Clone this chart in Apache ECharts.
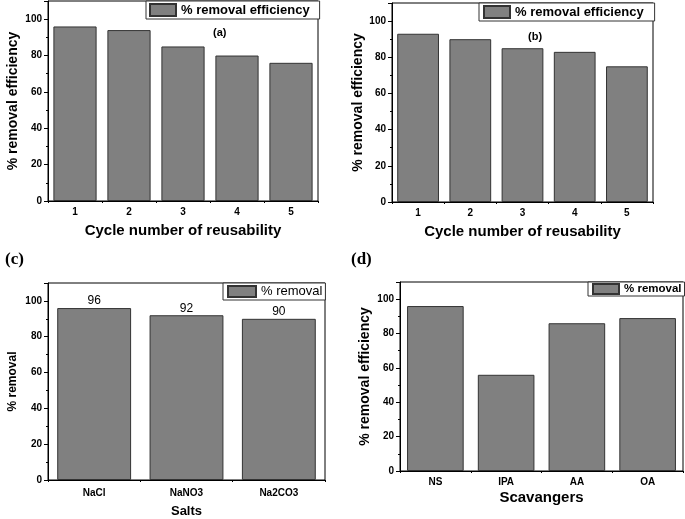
<!DOCTYPE html>
<html><head><meta charset="utf-8">
<script src="https://cdn.jsdelivr.net/npm/echarts@6/dist/echarts.min.js"></script>
<style>html,body{margin:0;padding:0;background:#fff}#c{width:685px;height:519px}</style>
</head><body><div id="c"></div>
<script>
const catA = ['1','2','3','4','5'];
const valA = [96, 94, 85, 80, 76];
const catB = ['1','2','3','4','5'];
const valB = [93, 90, 85, 83, 75];
const catC = ['NaCl','NaNO3','Na2CO3'];
const valC = [96, 92, 90];
const catD = ['NS','IPA','AA','OA'];
const valD = [96, 56, 86, 89];

const F = "'Liberation Sans', Arial, sans-serif";
const chart = echarts.init(document.getElementById('c'));
const grids = [
  {left:48, top:1, right:367, bottom:318},
  {left:392, top:3, right:32, bottom:317},
  {left:48, top:283, right:360, bottom:32},
  {left:400, top:282, right:2, bottom:48}
];
const cats = [catA, catB, catC, catD];
const vals = [valA, valB, valC, valD];
const xNames = ['Cycle number of reusability','Cycle number of reusability','Salts','Scavangers'];
const yNames = ['% removal efficiency','% removal efficiency','% removal','% removal efficiency'];
const xNameSize = [15,15,13,15], xNameGap=[22,22,25,19], xLabMargin=[6,6,8,6];
const yNameSize = [14,14,12,14], yNameGap=[28,26,29,28];
const sNames = ['% removal efficiency','% removal efficiency','% removal','% removal'];

const mainX = cats.map((c,i)=>({
  type:'category', gridIndex:i, data:c, position:'bottom',
  name:xNames[i], nameLocation:'middle', nameGap:xNameGap[i],
  nameTextStyle:{fontFamily:F, fontWeight:'bold', fontSize:xNameSize[i], color:'#000'},
  axisLine:{lineStyle:{color:'#000', width:1}},
  axisTick:{alignWithLabel:true, length:4, lineStyle:{color:'#000'}},
  axisLabel:{fontFamily:F, fontWeight:'bold', fontSize:10, color:'#000', margin:xLabMargin[i]}
}));
const minorX = cats.map((c,i)=>({
  type:'category', gridIndex:i, data:c, position:'bottom',
  axisLine:{show:false},
  axisTick:{show:true, length:2, lineStyle:{color:'#000'}},
  axisLabel:{show:false}, splitLine:{show:false}
}));

const option = {
  animation:false,
  backgroundColor:'#fff',
  grid: grids.map(g=>Object.assign({show:true, borderColor:'#000', borderWidth:1, backgroundColor:'transparent'}, g)),
  title: [
    {text:'(a)', left:208, top:22, textStyle:{fontFamily:F, fontWeight:'bold', fontSize:11, color:'#000'}},
    {text:'(b)', left:523, top:26, textStyle:{fontFamily:F, fontWeight:'bold', fontSize:11, color:'#000'}},
    {text:'(c)', left:0, top:246, textStyle:{fontFamily:"'Liberation Serif', 'Times New Roman', serif", fontWeight:'bold', fontSize:17, color:'#000'}},
    {text:'(d)', left:346, top:246, textStyle:{fontFamily:"'Liberation Serif', 'Times New Roman', serif", fontWeight:'bold', fontSize:17, color:'#000'}}
  ],
  legend: [
    {data:[sNames[0]], left:146, top:1, padding:[2,10,2,3], itemWidth:26, itemHeight:12, icon:'rect', borderColor:'#333', borderWidth:1, backgroundColor:'#fff', selectedMode:false, textStyle:{fontFamily:F, fontWeight:'bold', fontSize:13, color:'#000'}},
    {data:[sNames[1]], left:479, top:3, padding:[2,11,2,4], itemWidth:26, itemHeight:12, icon:'rect', borderColor:'#333', borderWidth:1, backgroundColor:'#fff', selectedMode:false, textStyle:{fontFamily:F, fontWeight:'bold', fontSize:13, color:'#000'}},
    {data:[sNames[2]], left:223, top:283, padding:[2,3,2,4], itemWidth:28, itemHeight:11, icon:'rect', borderColor:'#333', borderWidth:1, backgroundColor:'#fff', selectedMode:false, textStyle:{fontFamily:F, fontSize:13, color:'#000'}},
    {data:[sNames[3]], left:588, top:282, padding:[1,3,1,4], itemWidth:26, itemHeight:10, icon:'rect', borderColor:'#333', borderWidth:1, backgroundColor:'#fff', selectedMode:false, textStyle:{fontFamily:F, fontWeight:'bold', fontSize:11.5, color:'#000'}}
  ],
  xAxis: mainX.concat(minorX),
  yAxis: cats.map((c,i)=>({
    type:'value', gridIndex:i, min:0, max:110, interval:20,
    name:yNames[i], nameLocation:'middle', nameGap:yNameGap[i],
    nameTextStyle:{fontFamily:F, fontWeight:'bold', fontSize:yNameSize[i], color:'#000'},
    axisLine:{show:true, lineStyle:{color:'#000', width:1}},
    axisTick:{show:true, length:4, lineStyle:{color:'#000'}},
    minorTick:{show:true, splitNumber:2, length:2, lineStyle:{color:'#000'}},
    splitLine:{show:false},
    axisLabel:{fontFamily:F, fontWeight:'bold', fontSize:10, color:'#000', margin:6, showMaxLabel:false}
  })),
  series: vals.map((v,i)=>({
    type:'bar', name:sNames[i], xAxisIndex:i, yAxisIndex:i, data:v,
    barCategoryGap:'20%',
    itemStyle:{color:'#808080', borderColor:'#333', borderWidth:1},
    label: i===2 ? {show:true, position:'top', distance:1, fontFamily:F, fontSize:12, color:'#000'} : {show:false}
  }))
};
chart.setOption(option);
</script></body></html>
